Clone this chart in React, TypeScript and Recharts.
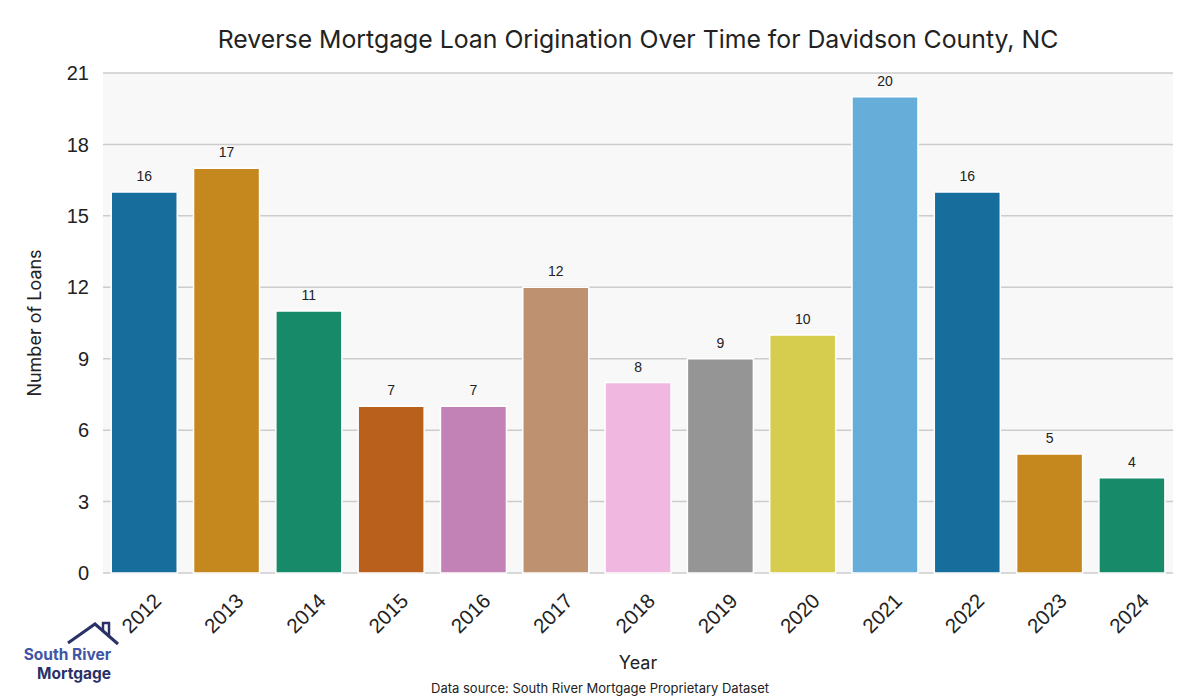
import { BarChart, Bar, XAxis, YAxis, CartesianGrid, Cell, LabelList, Label } from 'recharts'

const years = ['2012', '2013', '2014', '2015', '2016', '2017', '2018', '2019', '2020', '2021', '2022', '2023', '2024']
const loans = [16, 17, 11, 7, 7, 12, 8, 9, 10, 20, 16, 5, 4]
const yTicks = [0, 3, 6, 9, 12, 15, 18, 21]
const COLORS = ['#176d9c', '#c4881f', '#178a6a', '#b9601d', '#c282b5', '#be9170', '#f0b8e0', '#959595', '#d6cc4d', '#66aed9', '#176d9c', '#c4881f', '#178a6a']

const data = years.map((y, i) => ({ year: y, loans: loans[i] }))

const TICK_FONT = '"Liberation Sans", Arial, sans-serif'
const TITLE_FONT = 'Inter, "Noto Sans", sans-serif'

function YearTick(props: any) {
  const { x, y, payload } = props
  const cx = x - 3
  const cy = y + 32
  return (
    <text x={cx} y={cy} textAnchor="middle" dominantBaseline="central" fontSize={20.5} fill="#222"
      fontFamily={TICK_FONT} transform={`rotate(-45, ${cx}, ${cy})`}>
      {payload.value}
    </text>
  )
}

function Logo() {
  return (
    <svg width={120} height={74} style={{ position: 'absolute', left: 18, top: 618 }}>
      <polyline points="50,25 77,6 100,26" fill="none" stroke="#2a3068" strokeWidth={3} />
      <polyline points="85,12 85,5 91,5 91,17" fill="none" stroke="#2a3068" strokeWidth={2.5} />
      <text x={93} y={42} textAnchor="end" fontSize={15.5} fontWeight={700} fill="#3f55a6" fontFamily={TITLE_FONT}>South River</text>
      <text x={93} y={61} textAnchor="end" fontSize={15.5} fontWeight={700} fill="#2a3068" fontFamily={TITLE_FONT}>Mortgage</text>
    </svg>
  )
}

export default function App() {
  return (
    <div style={{ position: 'absolute', left: 0, top: 0, width: 1200, height: 700, background: '#fff' }}>
      <div style={{ position: 'absolute', left: 103, width: 1070, top: 24, textAlign: 'center', fontFamily: TITLE_FONT, fontSize: 24.8, color: '#222' }}>
        Reverse Mortgage Loan Origination Over Time for Davidson County, NC
      </div>
      <BarChart width={1200} height={700} data={data} barCategoryGap="10%"
        margin={{ top: 73, right: 27, bottom: 0, left: 0 }}>
        <CartesianGrid vertical={false} fill="#f8f8f8" stroke="#cccccc" strokeWidth={1.5} />
        <XAxis dataKey="year" tick={<YearTick />} axisLine={false} tickLine={false} interval={0} height={127}>
          <Label value="Year" position="insideBottom" offset={31} style={{ fontFamily: TITLE_FONT, fontSize: 18, fill: '#222' }} />
        </XAxis>
        <YAxis domain={[0, 21]} ticks={yTicks} width={103} axisLine={false} tickLine={false} tickSize={0} tickMargin={14}
          tick={{ fontSize: 20, fill: '#222', fontFamily: TICK_FONT }}>
          <Label value="Number of Loans" angle={-90} position="insideLeft" offset={35} style={{ textAnchor: 'middle', fontFamily: TITLE_FONT, fontSize: 18, fill: '#222' }} />
        </YAxis>
        <Bar dataKey="loans" isAnimationActive={false} stroke="#ffffff" strokeWidth={1.5}>
          {data.map((d, i) => <Cell key={d.year} fill={COLORS[i]} />)}
          <LabelList dataKey="loans" position="top" offset={11} style={{ fontSize: 14, fill: '#222', fontFamily: TICK_FONT }} />
        </Bar>
      </BarChart>
      <div style={{ position: 'absolute', left: 0, width: 1200, top: 680, textAlign: 'center', fontFamily: TITLE_FONT, fontSize: 13, color: '#222' }}>
        Data source: South River Mortgage Proprietary Dataset
      </div>
      <Logo />
    </div>
  )
}
